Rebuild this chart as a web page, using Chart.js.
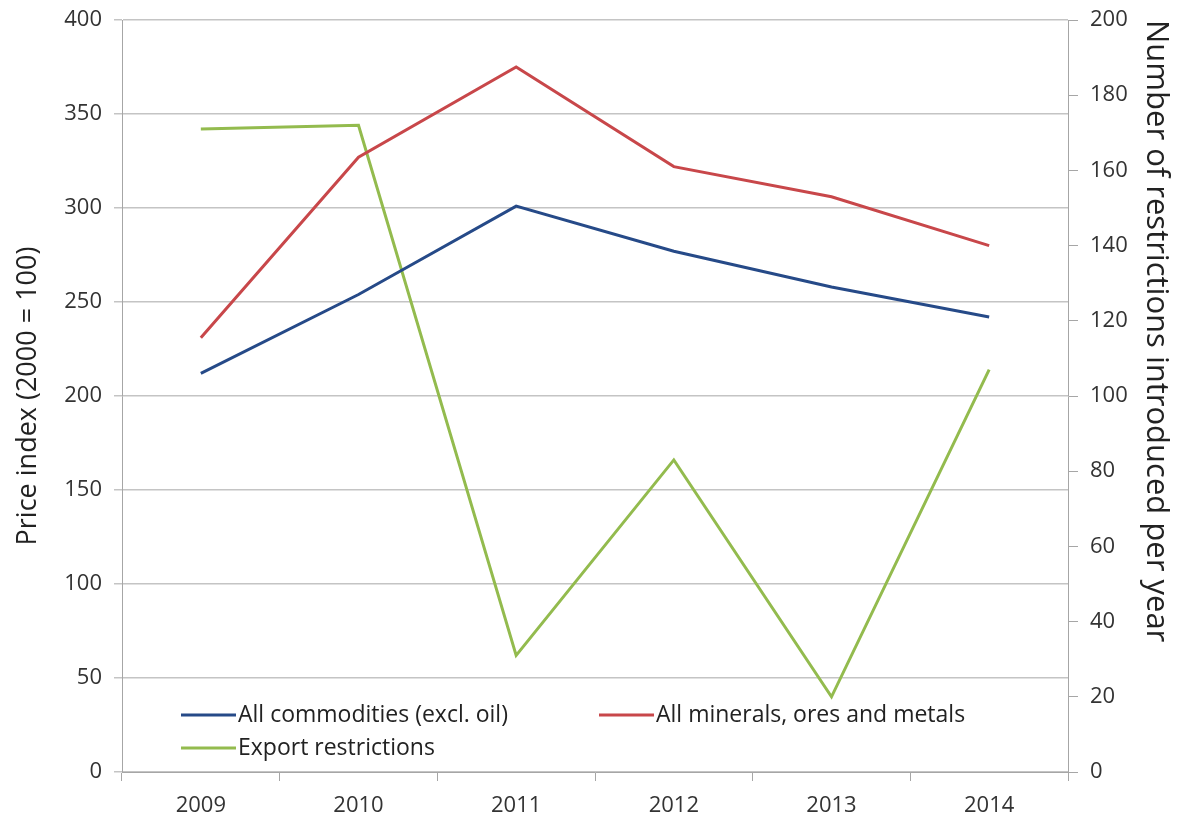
<!DOCTYPE html>
<html>
<head>
<meta charset="utf-8">
<script src="https://cdn.jsdelivr.net/npm/chart.js@4/dist/chart.umd.min.js"></script>
<style>
  html, body { margin: 0; padding: 0; background: #fff; }
  #wrap { width: 1178px; height: 817px; }
</style>
</head>
<body>
<div id="wrap"><canvas id="chart" width="1178" height="817"></canvas></div>
<script>
var years = ["2009", "2010", "2011", "2012", "2013", "2014"];
var allCommodities = [212, 254, 301, 277, 258, 242];
var allMinerals = [231, 327, 375, 322, 306, 280];
var exportRestrictions = [171, 172, 31, 83, 20, 107];

var fontFamily = "'Open Sans', 'Liberation Sans', sans-serif";

// legend drawn inside the plot area, bottom-left, two columns
var innerLegend = {
    id: 'innerLegend',
    afterDatasetsDraw: function (chart) {
        var ctx = chart.ctx;
        var area = chart.chartArea;
        var ds = chart.data.datasets;
        var spots = [
            [area.left + 59, area.bottom - 57],
            [area.left + 477, area.bottom - 57],
            [area.left + 59, area.bottom - 24]
        ];
        ctx.save();
        ctx.font = "23px " + fontFamily;
        ctx.textBaseline = 'middle';
        ds.forEach(function (d, i) {
            var p = spots[i];
            ctx.strokeStyle = d.borderColor;
            ctx.lineWidth = 3;
            ctx.beginPath();
            ctx.moveTo(p[0], p[1]);
            ctx.lineTo(p[0] + 55, p[1]);
            ctx.stroke();
            ctx.fillStyle = '#222';
            ctx.fillText(d.label, p[0] + 57, p[1]);
        });
        ctx.restore();
    }
};

new Chart(document.getElementById("chart"), {
    type: 'line',
    data: {
        labels: years,
        datasets: [{
            label: "All commodities (excl. oil)",
            data: allCommodities,
            borderColor: "#264a88",
            borderWidth: 3,
            pointRadius: 0,
            fill: false,
            yAxisID: 'y'
        }, {
            label: "All minerals, ores and metals",
            data: allMinerals,
            borderColor: "#c8474a",
            borderWidth: 3,
            pointRadius: 0,
            fill: false,
            yAxisID: 'y'
        }, {
            label: "Export restrictions",
            data: exportRestrictions,
            borderColor: "#93bb4e",
            borderWidth: 3,
            pointRadius: 0,
            fill: false,
            yAxisID: 'y2'
        }]
    },
    options: {
        responsive: false,
        animation: false,
        layout: { padding: { top: 20, right: 0, left: 0, bottom: 0 } },
        plugins: {
            legend: { display: false },
            tooltip: { enabled: false }
        },
        scales: {
            x: {
                offset: true,
                grid: {
                    offset: true,
                    drawOnChartArea: false,
                    drawTicks: true,
                    tickLength: 9,
                    color: '#a6a6a6'
                },
                border: { color: '#a6a6a6', width: 1 },
                ticks: { color: '#333', font: { family: fontFamily, size: 22 }, padding: 12 },
                afterFit: function (s) { s.height = 45; }
            },
            y: {
                position: 'left',
                min: 0, max: 400,
                ticks: { stepSize: 50, color: '#333', font: { family: fontFamily, size: 22 }, padding: 12 },
                grid: { color: '#c4c4c4', lineWidth: 1.5, tickLength: 8 },
                border: { color: '#a6a6a6' },
                title: { display: true, text: 'Price index (2000 = 100)', color: '#222', font: { family: fontFamily, size: 27 }, padding: { top: 12, bottom: 4 } },
                afterFit: function (s) { s.width = 122; s.paddingTop = 0; s.paddingBottom = 0; }
            },
            y2: {
                position: 'right',
                min: 0, max: 200,
                ticks: { stepSize: 20, color: '#333', font: { family: fontFamily, size: 22 }, padding: 12 },
                grid: { drawOnChartArea: false, color: '#a6a6a6', tickLength: 10 },
                border: { color: '#a6a6a6' },
                title: { display: true, text: 'Number of restrictions introduced per year', color: '#222', align: 'end', font: { family: fontFamily, size: 31 }, padding: { top: 4, bottom: 4 } },
                afterFit: function (s) { s.width = 110; s.paddingTop = 0; s.paddingBottom = 0; }
            }
        }
    },
    plugins: [innerLegend]
});
</script>
</body>
</html>
